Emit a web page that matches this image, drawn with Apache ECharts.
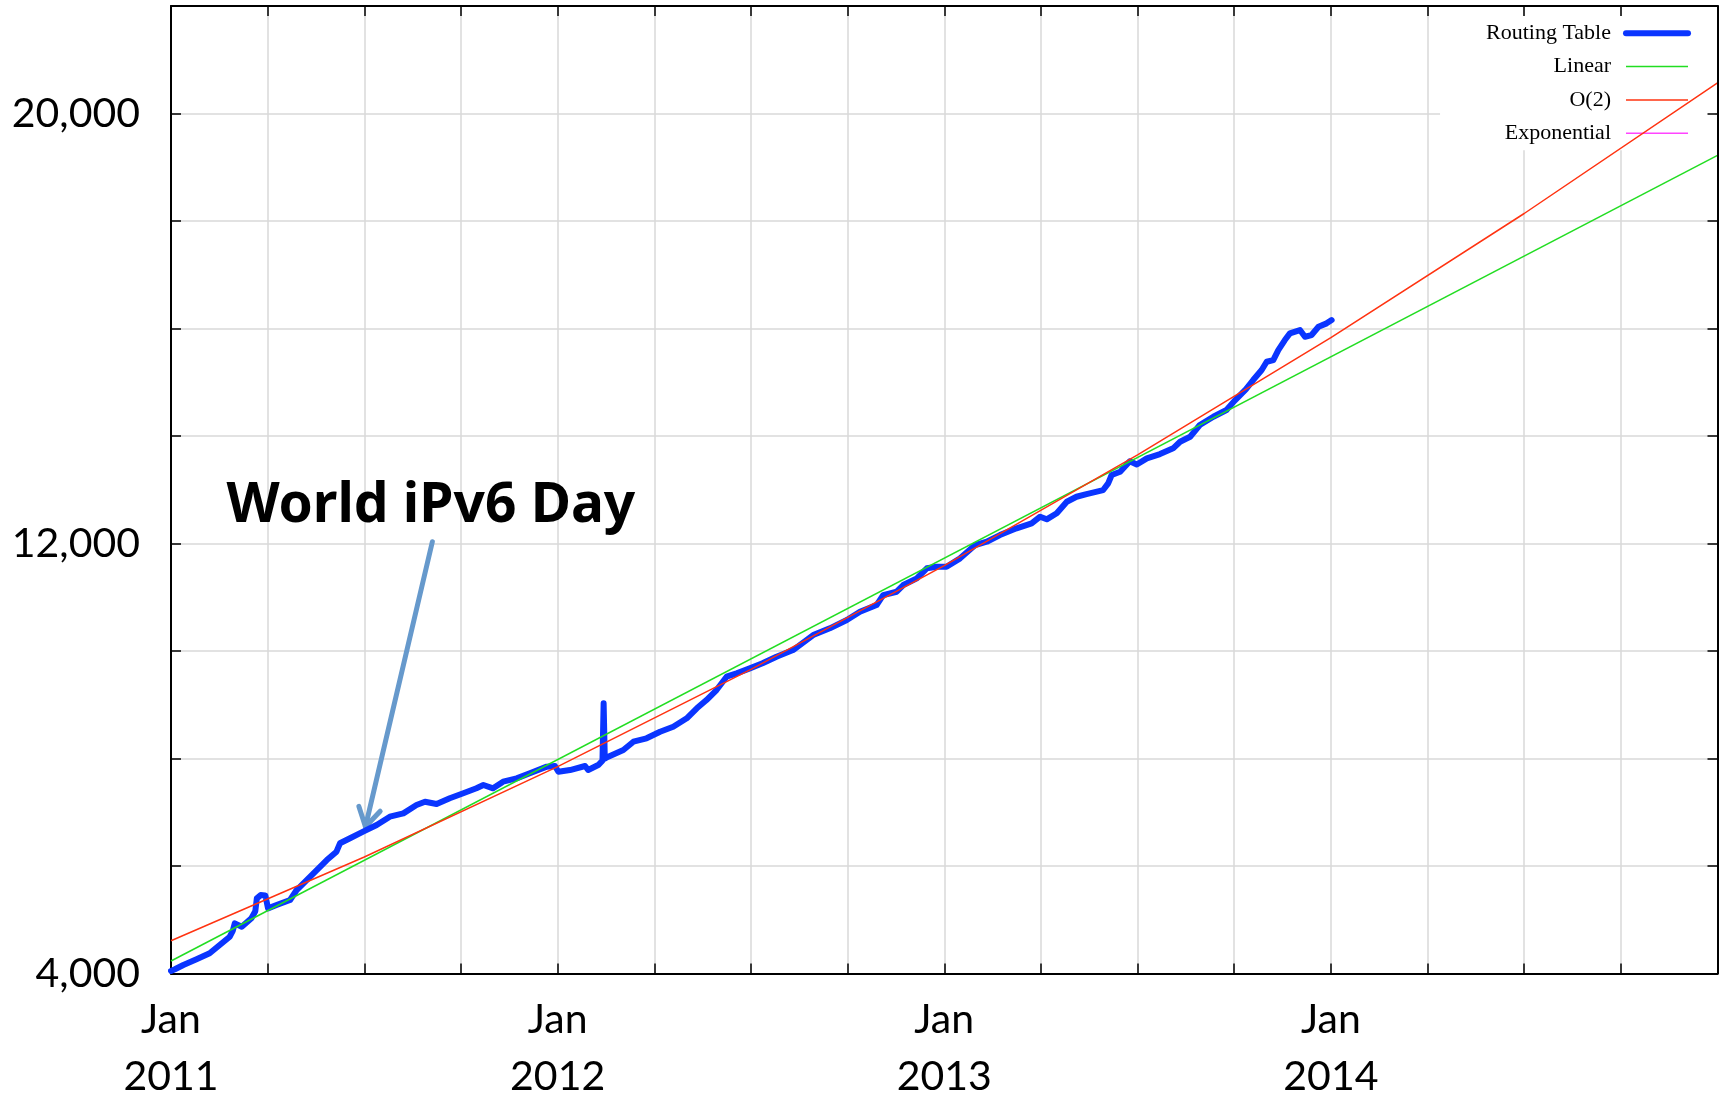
<!DOCTYPE html>
<html>
<head>
<meta charset="utf-8">
<title>IPv6 Routing Table</title>
<script src="https://cdn.jsdelivr.net/npm/echarts@6.0.0/dist/echarts.min.js"></script>
<style>
  html, body { margin: 0; padding: 0; background: #fff; }
  #chart { width: 1727px; height: 1098px; }
</style>
</head>
<body>
<div id="chart"></div>
<script>
// time is in decimal years, values are routing table entries
const routingTime = [
  2011.000, 2011.010, 2011.032, 2011.066, 2011.100, 2011.126, 2011.152, 2011.160, 2011.165, 2011.183,
  2011.208, 2011.218, 2011.222, 2011.232, 2011.244, 2011.251, 2011.273, 2011.308, 2011.325, 2011.351,
  2011.377, 2011.403, 2011.428, 2011.437, 2011.463, 2011.497, 2011.532, 2011.566, 2011.601, 2011.635,
  2011.657, 2011.687, 2011.721, 2011.756, 2011.790, 2011.808, 2011.833, 2011.859, 2011.894, 2011.928,
  2011.972, 2011.993, 2012.002, 2012.032, 2012.071, 2012.079, 2012.105, 2012.116, 2012.119, 2012.122,
  2012.131, 2012.170, 2012.196, 2012.230, 2012.265, 2012.299, 2012.334, 2012.360, 2012.385, 2012.411,
  2012.437, 2012.463, 2012.497, 2012.530, 2012.566, 2012.609, 2012.661, 2012.704, 2012.748, 2012.782,
  2012.825, 2012.842, 2012.877, 2012.894, 2012.929, 2012.955, 2012.981, 2013.006, 2013.041, 2013.080,
  2013.110, 2013.144, 2013.187, 2013.226, 2013.248, 2013.265, 2013.291, 2013.317, 2013.342, 2013.368,
  2013.411, 2013.424, 2013.433, 2013.455, 2013.480, 2013.498, 2013.524, 2013.558, 2013.592, 2013.610,
  2013.636, 2013.661, 2013.696, 2013.730, 2013.750, 2013.780, 2013.799, 2013.821, 2013.834, 2013.851,
  2013.864, 2013.881, 2013.894, 2013.920, 2013.933, 2013.950, 2013.968, 2013.989, 2014.002
];
const routingPrefixes = [
  4050, 4080, 4160, 4266, 4378, 4532, 4686, 4800, 4935, 4872,
  5029, 5160, 5400, 5460, 5455, 5214, 5276, 5369, 5555, 5741,
  5927, 6113, 6268, 6424, 6517, 6640, 6764, 6919, 6981, 7136,
  7198, 7155, 7261, 7354, 7447, 7508, 7447, 7570, 7632, 7726,
  7850, 7862, 7756, 7787, 7862, 7787, 7880, 7960, 9030, 8000,
  8035, 8159, 8314, 8377, 8500, 8593, 8749, 8935, 9089, 9275,
  9523, 9586, 9679, 9772, 9895, 10019, 10298, 10423, 10577, 10732,
  10856, 11042, 11104, 11228, 11353, 11539, 11569, 11569, 11725, 11972,
  12034, 12158, 12283, 12376, 12499, 12451, 12563, 12778, 12871, 12921,
  12995, 13120, 13275, 13336, 13530, 13470, 13585, 13665, 13771, 13894,
  13987, 14205, 14359, 14484, 14650, 14870, 15042, 15228, 15382, 15413,
  15600, 15786, 15910, 15972, 15847, 15879, 16033, 16096, 16158
];

const linearTime = [2011, 2015];
const linearValues = [4235, 19220];

const o2Time = [2011, 2011.5, 2012, 2012.5, 2013, 2013.5, 2014, 2014.5, 2015];
const o2Values = [4610, 6170, 7850, 9660, 11590, 13650, 15830, 18140, 20570];

const expTime = [];
const expValues = [];

const yLabelValues = [4000, 12000, 20000];
const lastYearLabel = 2014;

// annotation (data coordinates)
const annotationText = 'World iPv6 Day';
const annotationAt = [2011.672, 12700];
const arrowFrom = [2011.676, 12034];
const arrowTip = [2011.503, 6733];
const arrowArmLeft = [2011.486, 7110];
const arrowArmRight = [2011.541, 7020];

function pairs(xs, ys) {
  return xs.map((x, i) => [x, ys[i]]);
}

const labelFont = 'Lato';
const axisColor = '#000';
const gridColor = '#d9d9d9';
const noSymbol = { opacity: 0 };

let option = {
  backgroundColor: '#fff',
  animation: false,
  grid: {
    left: 171,
    right: 9.5,
    top: 6,
    bottom: 124.4,
    outerBoundsMode: 'none'
  },
  legend: {
    orient: 'vertical',
    right: 12,
    top: 16,
    align: 'right',
    itemWidth: 62,
    itemHeight: 22,
    itemGap: 11.3,
    padding: [6.3, 24, 6, 46],
    backgroundColor: '#fff',
    z: 3,
    textStyle: {
      fontFamily: 'Liberation Serif',
      fontSize: 22,
      color: '#000',
      padding: [0, 10, 0, 0]
    },
    data: [
      { name: 'Routing Table', lineStyle: { width: 6 }, itemStyle: noSymbol },
      { name: 'Linear', lineStyle: { width: 1.5 }, itemStyle: noSymbol },
      { name: 'O(2)', lineStyle: { width: 1.5 }, itemStyle: noSymbol },
      { name: 'Exponential', lineStyle: { width: 1.5 }, itemStyle: noSymbol }
    ]
  },
  xAxis: [
    {
      type: 'value',
      position: 'bottom',
      min: 2011,
      max: 2015,
      interval: 0.25,
      axisLine: { show: true, lineStyle: { color: axisColor, width: 2 } },
      axisTick: { show: true, inside: true, length: 10, lineStyle: { color: axisColor, width: 1.5 } },
      splitLine: { show: true, lineStyle: { color: gridColor, width: 1.5 } },
      axisLabel: {
        margin: 18,
        fontFamily: labelFont,
        fontSize: 41,
        lineHeight: 57,
        color: '#000',
        formatter: function (value) {
          const v = Math.round(value * 100) / 100;
          if (Number.isInteger(v) && v <= lastYearLabel) {
            return 'Jan\n' + v;
          }
          return '';
        }
      }
    },
    {
      type: 'value',
      position: 'top',
      min: 2011,
      max: 2015,
      interval: 0.25,
      z: 10,
      axisLine: { show: true, lineStyle: { color: axisColor, width: 2 } },
      axisTick: { show: true, inside: true, length: 10, lineStyle: { color: axisColor, width: 1.5 } },
      splitLine: { show: false },
      axisLabel: { show: false }
    }
  ],
  yAxis: [
    {
      type: 'value',
      position: 'left',
      min: 4000,
      max: 22000,
      interval: 2000,
      axisLine: { show: true, lineStyle: { color: axisColor, width: 2 } },
      axisTick: { show: true, inside: true, length: 10, lineStyle: { color: axisColor, width: 1.5 } },
      splitLine: { show: true, lineStyle: { color: gridColor, width: 1.5 } },
      axisLabel: {
        margin: 31,
        fontFamily: labelFont,
        fontSize: 41,
        color: '#000',
        formatter: function (value) {
          return yLabelValues.includes(value) ? value.toLocaleString('en-US') : '';
        }
      }
    },
    {
      type: 'value',
      position: 'right',
      min: 4000,
      max: 22000,
      interval: 2000,
      z: 10,
      axisLine: { show: true, lineStyle: { color: axisColor, width: 2 } },
      axisTick: { show: true, inside: true, length: 10, lineStyle: { color: axisColor, width: 1.5 } },
      splitLine: { show: false },
      axisLabel: { show: false }
    }
  ],
  series: [
    {
      name: 'Routing Table',
      type: 'line',
      z: 5,
      showSymbol: false,
      symbol: 'none',
      color: '#0a35ff',
      lineStyle: { color: '#0a35ff', width: 6, join: 'round', cap: 'round' },
      data: pairs(routingTime, routingPrefixes),
      markLine: {
        silent: true,
        symbol: ['none', 'none'],
        label: { show: false },
        lineStyle: { color: '#6699cc', width: 5, type: 'solid', cap: 'round' },
        data: [
          [{ coord: arrowFrom }, { coord: arrowTip }],
          [{ coord: arrowArmLeft }, { coord: arrowTip }],
          [{ coord: arrowArmRight }, { coord: arrowTip }]
        ]
      },
      markPoint: {
        silent: true,
        symbol: 'circle',
        symbolSize: 1,
        itemStyle: { color: 'rgba(0,0,0,0)' },
        label: {
          show: true,
          position: 'inside',
          formatter: annotationText,
          fontFamily: 'Noto Sans',
          fontWeight: 'bold',
          fontSize: 55,
          color: '#000'
        },
        data: [{ name: annotationText, coord: annotationAt }]
      }
    },
    {
      name: 'Linear',
      type: 'line',
      z: 6,
      symbol: 'none',
      color: '#22dd22',
      lineStyle: { color: '#22dd22', width: 1.5 },
      data: pairs(linearTime, linearValues)
    },
    {
      name: 'O(2)',
      type: 'line',
      z: 7,
      symbol: 'none',
      color: '#ff3311',
      lineStyle: { color: '#ff3311', width: 1.5 },
      data: pairs(o2Time, o2Values)
    },
    {
      name: 'Exponential',
      type: 'line',
      z: 8,
      symbol: 'none',
      color: '#ff44ff',
      lineStyle: { color: '#ff44ff', width: 1.5 },
      data: pairs(expTime, expValues)
    }
  ]
};

document.addEventListener('DOMContentLoaded', function () {
  const myChart = echarts.init(document.getElementById('chart'));
  myChart.setOption(option);
});
</script>
</body>
</html>
